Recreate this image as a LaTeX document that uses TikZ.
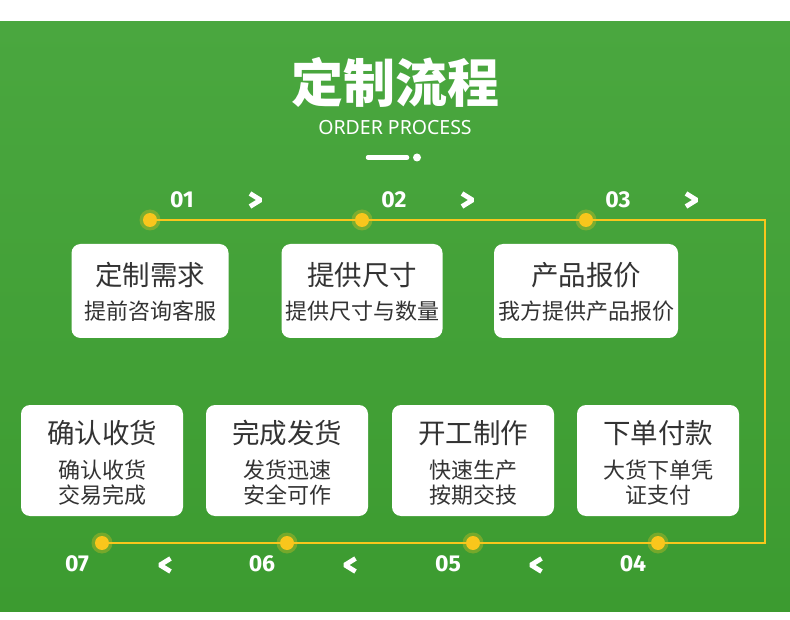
\documentclass[tikz,border=0pt]{standalone}
\usepackage{fontspec}
\newfontfamily\cjk{Noto Sans CJK SC}
\newfontfamily\latinfont{Noto Sans}
\newfontfamily\numfont{Fira Sans}
\usetikzlibrary{positioning,calc}

\definecolor{greentop}{HTML}{4AA73F}
\definecolor{greenbot}{HTML}{3C9B30}
\definecolor{flowyellow}{HTML}{F9C61C}
\definecolor{cardtext}{HTML}{333333}

\tikzset{
	card/.style={fill=white, rounded corners=9pt, minimum width=#1, inner sep=0pt},
	cardtitle/.style={text=cardtext, font=\cjk\fontsize{27.5pt}{30pt}\selectfont, inner sep=0pt},
	cardsub/.style={text=cardtext, font=\cjk\fontsize{22pt}{25pt}\selectfont, align=center, inner sep=0pt},
	stepnum/.style={text=white, font=\numfont\bfseries\fontsize{23pt}{23pt}\selectfont, inner sep=0pt},
	chevron/.style={draw=white, line width=4.8pt, line join=bevel},
	flowline/.style={draw=flowyellow, line width=2pt},
}

\begin{document}
\begin{tikzpicture}[x=1pt, y=-1pt]

	\useasboundingbox (0,0) rectangle (790,620);
	\fill[white] (0,0) rectangle (790,620);
	\shade[top color=greentop, bottom color=greenbot] (0,22) rectangle (790,611);

	\def\ytop{220} \def\ybot{543} \def\xright{765}

	% Title
	\node[text=white, font=\cjk\bfseries\fontsize{52pt}{56pt}\selectfont, inner sep=0pt] (title) at (395,82) {定制流程};
	\node[text=white, font=\latinfont\fontsize{19.5pt}{21pt}\selectfont, inner sep=0pt] (subtitle) at (395,128) {ORDER PROCESS};
	\draw[white, line width=4.5pt, line cap=round] (368,157.5) -- (407,157.5);
	\fill[white] (417,157.5) circle (4pt);

	% Upper row: dots, numbers, cards
	\foreach \x/\w/\num/\head/\sub [count=\i] in {
		150/157/01/定制需求/提前咨询客服,
		362/161/02/提供尺寸/提供尺寸与数量,
		586/184/03/产品报价/我方提供产品报价} {
		\coordinate (dot\i) at (\x,\ytop);
		\node[stepnum] (num\i) at (\x+32,200) {\num};
		\draw[chevron] (\x+100,193.5) -- (\x+110.5,200) -- (\x+100,206.5);
		\node[card=\w pt, minimum height=94pt] (card\i) at (\x,291) {};
		\node[cardtitle] (head\i) at ([yshift=16pt]card\i.center) {\head};
		\node[cardsub] (sub\i) at ([yshift=-20pt]card\i.center) {\sub};
	}

	% Lower row, right to left
	\foreach \x/\num/\head/\sub [count=\j from 4] in {
		658/04/下单付款/{大货下单凭\\证支付},
		473/05/开工制作/{快速生产\\按期交技},
		287/06/完成发货/{发货迅速\\安全可作},
		102/07/确认收货/{确认收货\\交易完成}} {
		\coordinate (dot\j) at (\x,\ybot);
		\node[stepnum] (num\j) at (\x-25,564) {\num};
		\node[card=162pt, minimum height=111pt] (card\j) at (\x,460.5) {};
		\node[cardtitle] (head\j) at ([yshift=27.5pt]card\j.center) {\head};
		\node[cardsub] (sub\j) at ([yshift=-22pt]card\j.center) {\sub};
	}
	\foreach \x in {536,350,165}
		\draw[chevron] (\x+5.5,558.5) -- (\x-5,565) -- (\x+5.5,571.5);

	% Yellow flow line
	\coordinate (turnA) at (\xright,\ytop);
	\coordinate (turnB) at (\xright,\ybot);
	\draw[flowline] (dot1) -- (dot2) -- (dot3) -- (turnA) -- (turnB) -- (dot4) -- (dot5) -- (dot6) -- (dot7);

	% Dots with halo
	\foreach \i in {1,...,7} {
		\fill[flowyellow, opacity=0.3] (dot\i) circle (10.5pt);
		\fill[flowyellow] (dot\i) circle (7pt);
	}

\end{tikzpicture}
\end{document}
